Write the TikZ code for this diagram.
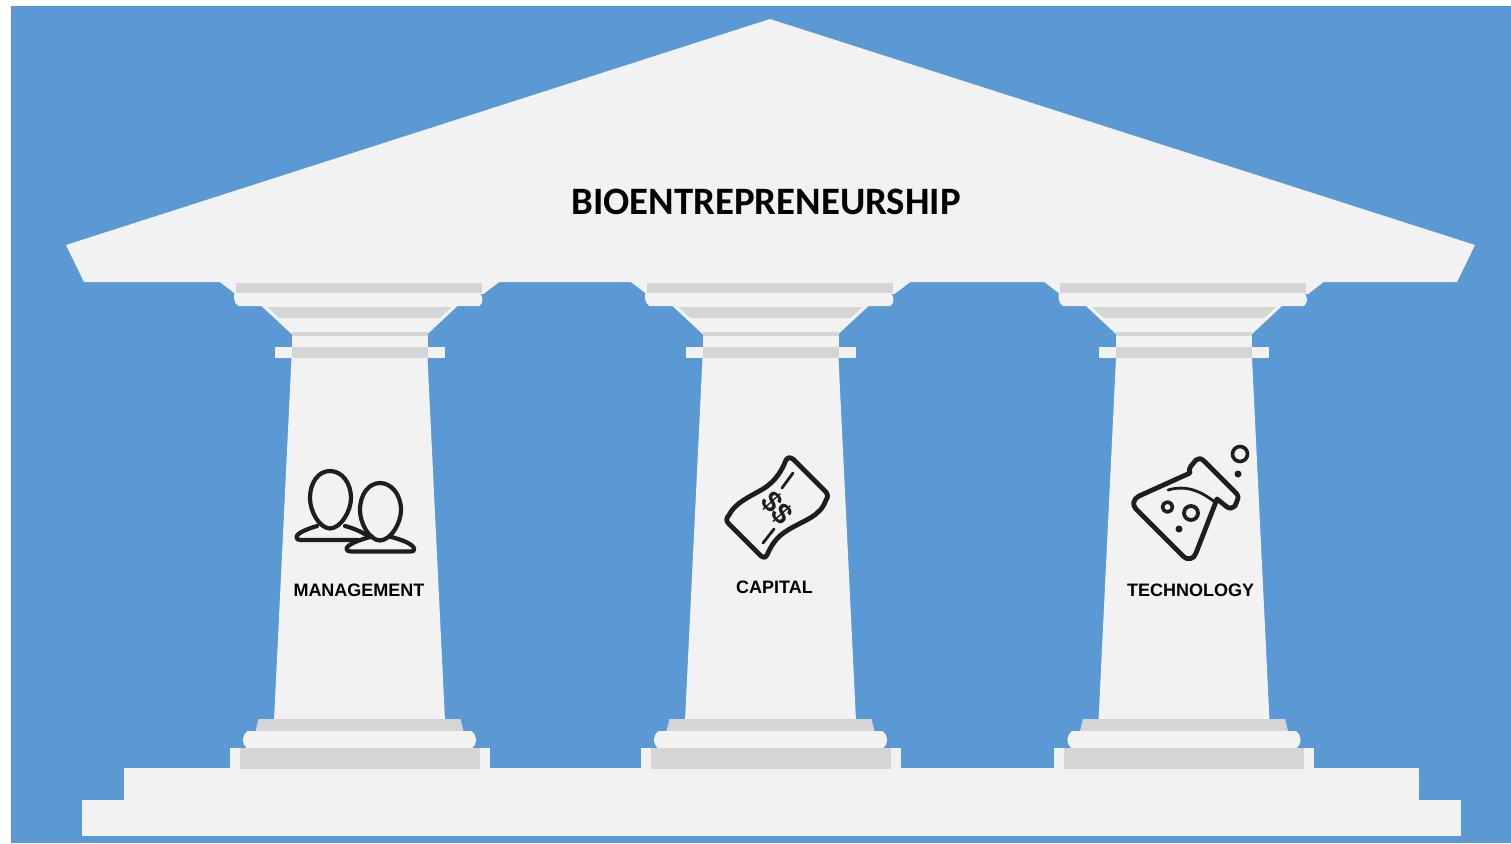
\documentclass[tikz,border=0pt]{standalone}
\usepackage{fontspec}
\setmainfont{Liberation Sans}
\newfontfamily\titlefont{Carlito}
\definecolor{skyblue}{HTML}{5A99D4}
\definecolor{marble}{HTML}{F2F2F2}
\definecolor{marblegrey}{HTML}{D5D5D5}
\definecolor{inkdark}{HTML}{1E1E1E}
\tikzset{
  x=0.5pt,y=-0.5pt,
  light/.style={fill=marble,draw=none},
  shade band/.style={fill=marblegrey,draw=none},
  iconline/.style={draw=inkdark,line width=2.1pt,line join=round,line cap=round,fill=none},
  iconheavy/.style={iconline,line width=2.4pt},
  iconthin/.style={draw=inkdark,line width=1.4pt,line cap=round,fill=none},
  icondot/.style={fill=inkdark,draw=none},
  pillarlabel/.style={font=\fontsize{9}{11}\selectfont\bfseries,text=black,inner sep=0pt},
}
\newcommand{\pillarbody}[1]{%
  \begin{scope}[shift={(#1,0)}]
    % abacus
    \fill[light] (-141,281) -- (141,281) -- (124,294) -- (-124,294) -- cycle;
    \fill[shade band] (-124,283) rectangle (122,293);
    \fill[light] (-125,293) -- (120,293) .. controls (124,296) and (124,303) .. (120,306) -- (-121,306) .. controls (-126,303) and (-126,296) .. (-125,293) -- cycle;
    % echinus
    \fill[light] (-98,306) -- (98,306) -- (68,334) -- (-68,334) -- cycle;
    \fill[shade band] (-92,307) -- (92,307) -- (80,318) -- (-80,318) -- cycle;
    \fill[shade band] (-68,332) rectangle (68,336);
    % neck and ring
    \fill[light] (-68,336) rectangle (68,347);
    \fill[light] (-85,347) rectangle (85,358);
    \fill[shade band] (-68,347) rectangle (68,358);
    % shaft
    \fill[light] (-68,358) -- (68,358) -- (85.5,721) -- (-85.5,721) -- cycle;
    % base mouldings
    \fill[shade band] (-101,719) -- (101,719) -- (104,731) -- (-104,731) -- cycle;
    \fill[light] (-112,731) -- (112,731) .. controls (118,736) and (118,743) .. (113,748) -- (-113,748) .. controls (-118,743) and (-118,736) .. (-112,731) -- cycle;
    \fill[light] (-130,748) rectangle (130,771);
    \fill[shade band] (-120,748) rectangle (120,769);
  \end{scope}}
\begin{document}
\begin{tikzpicture}
  \useasboundingbox (0,0) rectangle (1511,843);
  \fill[white] (0,0) rectangle (1511,843);
  \fill[skyblue] (11,6) rectangle (1511,843);

  % plinth
  \fill[light] (124,768) rectangle (1419,800);
  \fill[light] (82,800) rectangle (1461,836);

  % pillars
  \pillarbody{359.5}
  \pillarbody{770.5}
  \pillarbody{1184}

  % roof
  \fill[light] (770,19) -- (1475,245) -- (1457,282) -- (84,282) -- (66,245) -- cycle;

  % texts
  \node[inner sep=0pt,text=black,font=\titlefont\fontsize{19.4}{22}\selectfont\bfseries] (title) at (766,202) {BIOENTREPRENEURSHIP};
  \node[pillarlabel] (management) at (359,590) {MANAGEMENT};
  \node[pillarlabel] (capital) at (774.5,587) {CAPITAL};
  \node[pillarlabel] (technology) at (1190.5,590) {TECHNOLOGY};

  % people icon
  \draw[iconline] (330,471) .. controls (318,471) and (310,483) .. (310,498)
     .. controls (310,511) and (319,528) .. (330,528.5)
     .. controls (341,528) and (351,511) .. (351,498)
     .. controls (351,483) and (342,471) .. (330,471) -- cycle;
  \draw[iconline] (317,526) .. controls (307,529) and (297,533) .. (296.5,537)
     .. controls (296.5,539.5) and (298,540) .. (301,540) -- (358,540);
  \draw[iconline] (345,526) .. controls (353,528) and (362,532) .. (370,537);
  \draw[iconline] (380,483) .. controls (369,483) and (360,494) .. (360,510)
     .. controls (360,523) and (369,540) .. (380,540.5)
     .. controls (391,540) and (401,523) .. (401,510)
     .. controls (401,494) and (391,483) .. (380,483) -- cycle;
  \draw[iconline] (372,536.5) .. controls (358,540) and (347,545) .. (346.5,548.5)
     .. controls (346.5,550.5) and (348,551.5) .. (351,551.5) -- (410,551.5)
     .. controls (414,551.5) and (415,550) .. (414,548)
     .. controls (411,543) and (402,540) .. (390,536.5);

  % money icon
  \draw[iconheavy] (786,460) .. controls (788,457) and (791,457) .. (793,459)
     -- (826,492) .. controls (828,495) and (828,497) .. (826,500)
     .. controls (820,517) and (804,520) .. (788,530)
     .. controls (776,537) and (771,546) .. (767,555)
     .. controls (765,558) and (763,558) .. (761,556)
     -- (729,524) .. controls (726,521) and (726,518) .. (729,515)
     .. controls (735,503) and (749,497) .. (763,489)
     .. controls (776,481) and (782,470) .. (786,460) -- cycle;
  \draw[iconthin] (793,473) -- (782,488);
  \draw[iconthin] (774,529) -- (763,543);
  \node[rotate=-48,inner sep=0pt,text=inkdark,font=\fontsize{14.5}{15}\selectfont\bfseries] (dollars) at (777,508) {\$\$};

  % flask icon
  \draw[iconheavy] (1190,473) -- (1139,496) .. controls (1133,499) and (1132,505) .. (1136,509)
     -- (1183,556) .. controls (1188,561) and (1194,559) .. (1196,553)
     -- (1217,499) -- (1227,507)
     .. controls (1230,509) and (1233,508) .. (1235,506)
     -- (1237,501) .. controls (1239,497) and (1238,495) .. (1235,492)
     -- (1204,461) .. controls (1201,458) and (1198,458) .. (1196,460)
     -- (1191,466) .. controls (1189,469) and (1189,471) .. (1190,473) -- cycle;
  \draw[iconthin] (1168,490) .. controls (1185,485) and (1200,490) .. (1216,503);
  \draw[iconline,line width=1.8pt] (1167.5,507) circle (5);
  \draw[iconline,line width=1.9pt] (1191,513) circle (7);
  \fill[icondot] (1179,529) circle (3.5);
  \draw[iconline,line width=1.8pt] (1240,454) circle (7.5);
  \fill[icondot] (1238,474) circle (3.5);
\end{tikzpicture}
\end{document}
